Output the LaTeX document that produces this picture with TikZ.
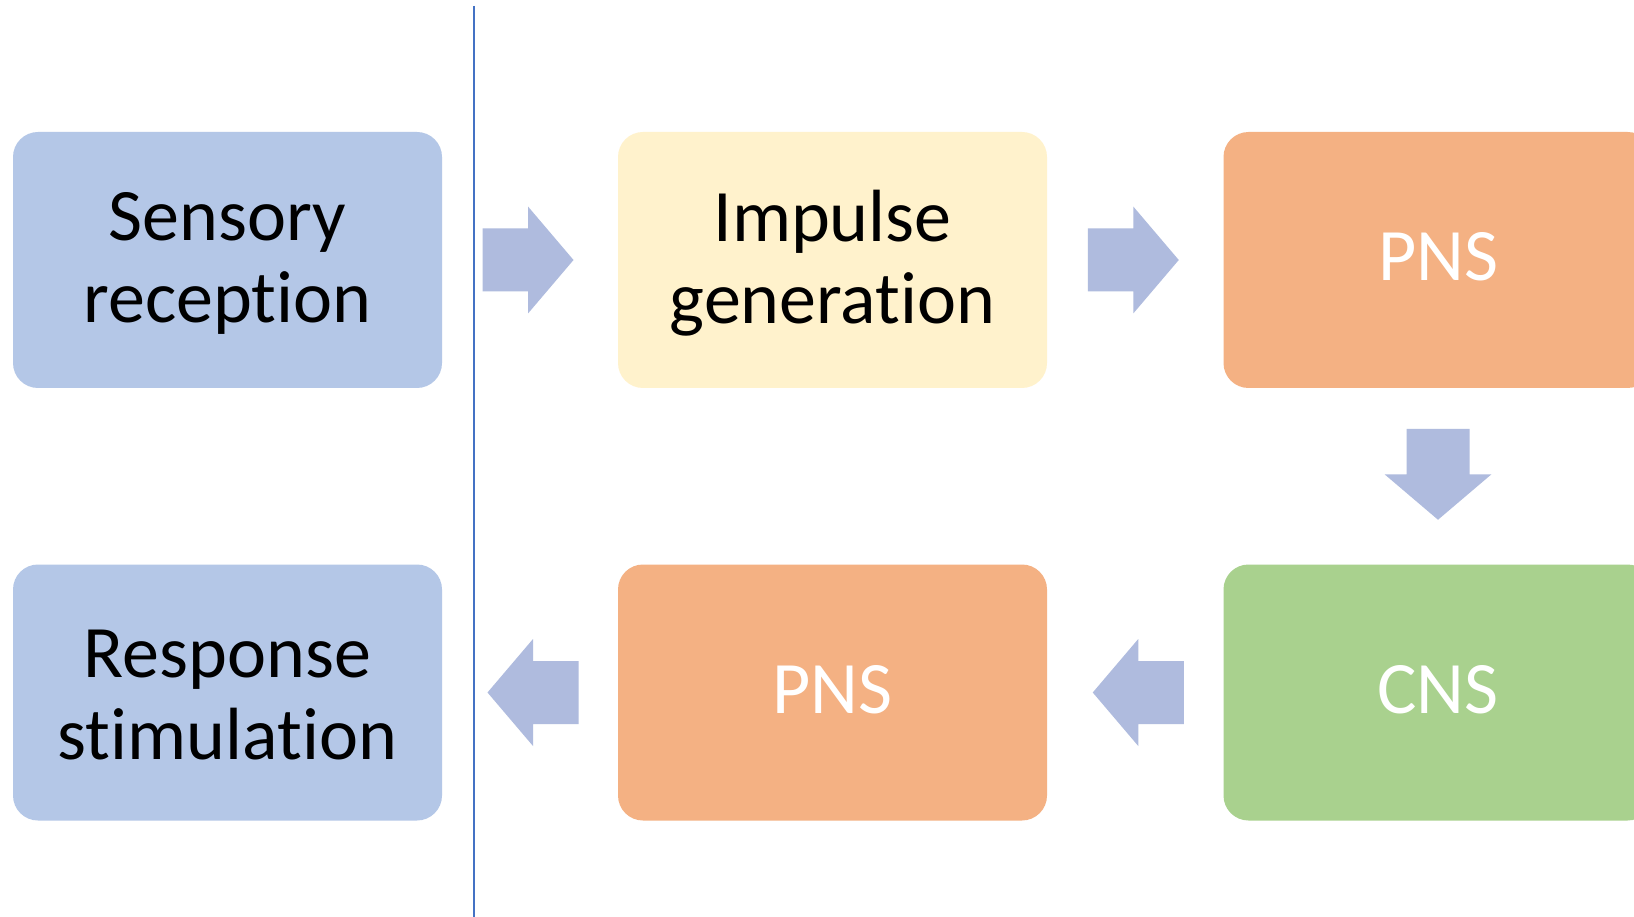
\documentclass[tikz,border=0pt]{standalone}
\usepackage{fontspec}
\setmainfont{Carlito}[Ligatures={NoCommon,NoContextual}]
\usetikzlibrary{calc}
\definecolor{stageblue}{HTML}{B4C7E7}
\definecolor{stagecream}{HTML}{FFF2CC}
\definecolor{stageorange}{HTML}{F4B183}
\definecolor{stagegreen}{HTML}{A9D18E}
\definecolor{flowarrow}{HTML}{AFBBDE}
\definecolor{divider}{HTML}{4472C4}
\tikzset{
  stagebox/.style={rectangle, rounded corners=25pt, minimum width=429pt,
    minimum height=256pt, inner sep=0pt},
  stagetext/.style={inner sep=0pt, align=center,
    font=\fontsize{74}{82}\selectfont},
  darklabel/.style={label={[stagetext, text=black, yshift=-3pt]center:#1}},
  lightlabel/.style={label={[stagetext, text=white, yshift=3pt]center:#1}},
  pics/blockarrow/.style={code={
    \fill[flowarrow] (-45.5,-31.5) -- (0,-31.5) -- (0,-53.5) -- (45.5,0)
      -- (0,53.5) -- (0,31.5) -- (-45.5,31.5) -- cycle;}}
}
\begin{document}
\begin{tikzpicture}[x=1pt,y=-1pt]
\clip (0,0) rectangle (1634,917);
\fill[white] (0,0) rectangle (1634,917);

% stages of the reflex pathway
\node[stagebox, fill=stageblue, darklabel={Sensory\\reception}] (sens) at (227.5,260) {};
\node[stagebox, fill=stagecream, darklabel={Impulse\\generation}] (imp) at (832.5,260) {};
\node[stagebox, fill=stageorange, lightlabel={PNS}] (pnsa) at (1438,260) {};
\node[stagebox, fill=stagegreen, lightlabel={CNS}] (cns) at (1438,692.5) {};
\node[stagebox, fill=stageorange, lightlabel={PNS}] (pnsb) at (832.5,692.5) {};
\node[stagebox, fill=stageblue, darklabel={Response\\stimulation}] (resp) at (227.5,692.5) {};

% flow arrows between stages
\coordinate (f1) at ($(sens.east)!0.5!(imp.west)+(-2,0)$);
\coordinate (f2) at ($(imp.east)!0.5!(pnsa.west)+(-2,0)$);
\coordinate (f3) at ($(pnsa.south)!0.5!(cns.north)+(0,-2)$);
\coordinate (f4) at ($(cns.west)!0.5!(pnsb.east)+(3,0)$);
\coordinate (f5) at ($(pnsb.west)!0.5!(resp.east)+(3,0)$);
\pic at (f1) {blockarrow};
\pic at (f2) {blockarrow};
\pic[rotate=-90] at (f3) {blockarrow};
\pic[rotate=180] at (f4) {blockarrow};
\pic[rotate=180] at (f5) {blockarrow};

% divider line
\draw[divider, line width=2pt] (474.3,6) -- (474.3,917);
\end{tikzpicture}
\end{document}
